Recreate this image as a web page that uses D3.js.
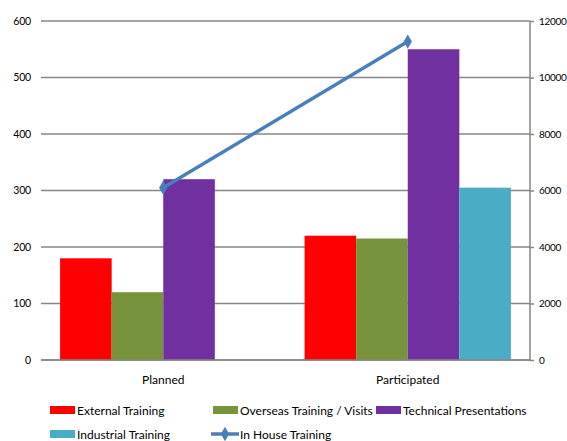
<!DOCTYPE html>
<html>
<head>
<meta charset="utf-8">
<script src="https://cdn.jsdelivr.net/npm/d3@7"></script>
<style>
body{margin:0;background:#fff;}
text{font-family:Lato,"Open Sans",sans-serif;fill:#000;}
</style>
</head>
<body>
<svg id="chart" width="567" height="441"></svg>
<script>
const categories = ["Planned", "Participated"];
const barSeries = ["External Training", "Overseas Training / Visits", "Technical Presentations", "Industrial Training"];
const externalTraining = [180, 220];
const overseasTraining = [120, 215];
const technicalPresentations = [320, 550];
const industrialTraining = [0, 305];
const inHouseTraining = [6100, 11270];
const leftTicks = [0, 100, 200, 300, 400, 500, 600];
const rightTicks = [0, 2000, 4000, 6000, 8000, 10000, 12000];
const colors = ["#ff0000", "#77933c", "#7030a0", "#4bacc6"];
const lineColor = "#4a7ebb";

const barValues = [externalTraining, overseasTraining, technicalPresentations, industrialTraining];

const svg = d3.select("#chart");
const pLeft = 41, pRight = 530, pTop = 21, pBottom = 360;
const gridColor = "#868686";

const x0 = d3.scaleBand().domain(categories).range([pLeft, pRight]).paddingInner(0).paddingOuter(0);
const x1 = d3.scaleBand().domain(barSeries).range([0, x0.bandwidth()]).paddingOuter(0.37).paddingInner(0);
const yL = d3.scaleLinear().domain([0, 600]).range([pBottom, pTop]);
const yR = d3.scaleLinear().domain([0, 12000]).range([pBottom, pTop]);

// gridlines
svg.append("g").selectAll("line").data(leftTicks).join("line")
  .attr("x1", pLeft).attr("x2", pRight)
  .attr("y1", d => yL(d)).attr("y2", d => yL(d))
  .attr("stroke", gridColor).attr("stroke-width", 1.5);

// left axis labels
const gl = svg.append("g").attr("transform", `translate(${pLeft},0)`)
  .call(d3.axisLeft(yL).tickValues(leftTicks).tickSize(0).tickPadding(10));
gl.select(".domain").remove();
gl.selectAll("text").style("font-size", "10.5px").style("letter-spacing", "-0.2px").attr("fill", "#000").style("font-family", "Lato, 'Open Sans', sans-serif");

// right axis
const gr = svg.append("g").attr("transform", `translate(${pRight},0)`)
  .call(d3.axisRight(yR).tickValues(rightTicks).tickFormat(d3.format("d")).tickSize(4).tickPadding(5));
gr.select(".domain").attr("stroke", gridColor).attr("stroke-width", 1.5).attr("d", `M0,${pTop}V${pBottom}`);
gr.selectAll(".tick line").attr("stroke", gridColor).attr("stroke-width", 1.5);
gr.selectAll("text").style("font-size", "10px").style("letter-spacing", "-0.3px").attr("fill", "#000").style("font-family", "Lato, 'Open Sans', sans-serif");

// bars
barSeries.forEach((s, i) => {
  svg.append("g").selectAll("rect").data(categories).join("rect")
    .attr("x", c => x0(c) + x1(s))
    .attr("width", x1.bandwidth())
    .attr("y", (c, j) => yL(barValues[i][j]))
    .attr("height", (c, j) => pBottom - yL(barValues[i][j]))
    .attr("fill", colors[i]);
});

// baseline
svg.append("line").attr("x1", pLeft).attr("x2", pRight).attr("y1", pBottom).attr("y2", pBottom)
  .attr("stroke", gridColor).attr("stroke-width", 1.5);

// category labels
svg.append("g").selectAll("text").data(categories).join("text")
  .attr("x", c => x0(c) + x0.bandwidth() / 2)
  .attr("y", 384)
  .attr("text-anchor", "middle")
  .style("font-size", "12px")
  .text(d => d);

// line
const lineGen = d3.line().x((d, i) => x0(categories[i]) + x0.bandwidth() / 2).y(d => yR(d));
svg.append("path").datum(inHouseTraining).attr("d", lineGen)
  .attr("fill", "none").attr("stroke", lineColor).attr("stroke-width", 3.5);
const diamond = d3.symbol().type(d3.symbolDiamond).size(60);
svg.append("g").selectAll("path").data(inHouseTraining).join("path")
  .attr("d", diamond)
  .attr("transform", (d, i) => `translate(${x0(categories[i]) + x0.bandwidth() / 2},${yR(d)})`)
  .attr("fill", lineColor);

// legend
const legendItems = [
  {name: barSeries[0], type: "bar", color: colors[0], x: 50, y: 406},
  {name: barSeries[1], type: "bar", color: colors[1], x: 213, y: 406},
  {name: barSeries[2], type: "bar", color: colors[2], x: 376, y: 406},
  {name: barSeries[3], type: "bar", color: colors[3], x: 50, y: 430},
  {name: "In House Training", type: "line", color: lineColor, x: 211, y: 430}
];
const lg = svg.append("g");
legendItems.forEach(it => {
  if (it.type === "bar") {
    lg.append("rect").attr("x", it.x).attr("y", it.y).attr("width", 25).attr("height", 8).attr("fill", it.color);
    lg.append("text").attr("x", it.x + 27).attr("y", it.y + 8.5).style("font-size", "12px").text(it.name);
  } else {
    lg.append("line").attr("x1", it.x).attr("x2", it.x + 28).attr("y1", it.y + 4).attr("y2", it.y + 4)
      .attr("stroke", it.color).attr("stroke-width", 3.5);
    lg.append("path").attr("d", diamond).attr("transform", `translate(${it.x + 14},${it.y + 4})`).attr("fill", it.color);
    lg.append("text").attr("x", it.x + 29).attr("y", it.y + 8.5).style("font-size", "12px").text(it.name);
  }
});
</script>
</body>
</html>
